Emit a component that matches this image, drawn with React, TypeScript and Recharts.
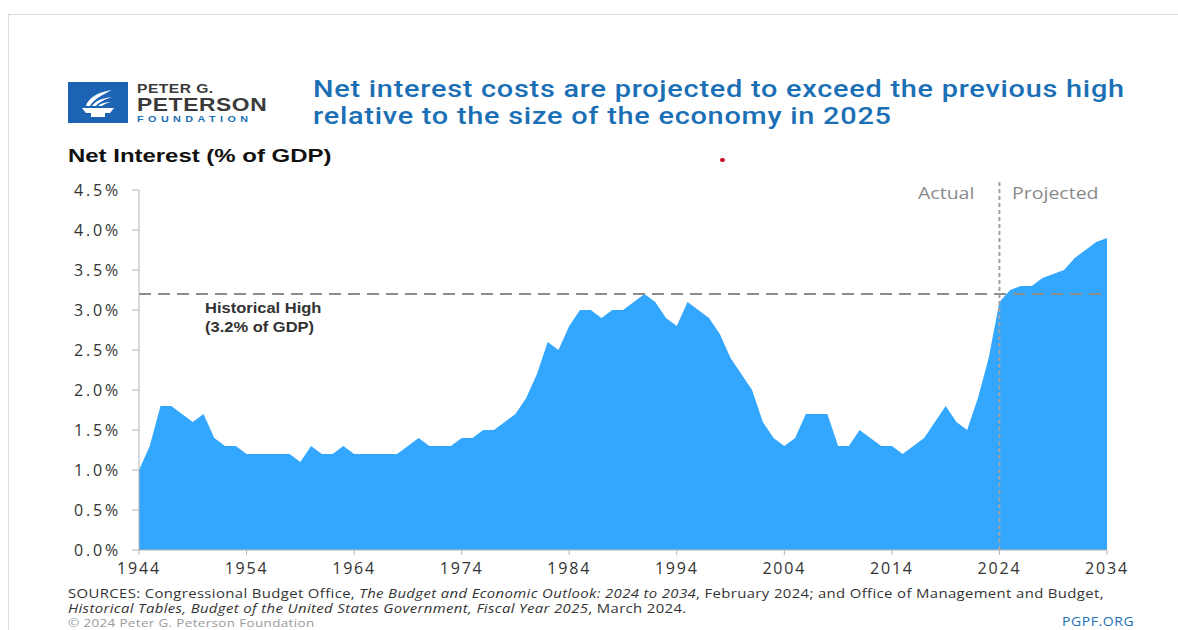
import React from 'react';
import { AreaChart, Area, XAxis, YAxis, ReferenceLine } from 'recharts';

// fiscal years shown on the chart
const years = [
  1944, 1945, 1946, 1947, 1948, 1949, 1950, 1951, 1952, 1953,
  1954, 1955, 1956, 1957, 1958, 1959, 1960, 1961, 1962, 1963,
  1964, 1965, 1966, 1967, 1968, 1969, 1970, 1971, 1972, 1973,
  1974, 1975, 1976, 1977, 1978, 1979, 1980, 1981, 1982, 1983,
  1984, 1985, 1986, 1987, 1988, 1989, 1990, 1991, 1992, 1993,
  1994, 1995, 1996, 1997, 1998, 1999, 2000, 2001, 2002, 2003,
  2004, 2005, 2006, 2007, 2008, 2009, 2010, 2011, 2012, 2013,
  2014, 2015, 2016, 2017, 2018, 2019, 2020, 2021, 2022, 2023,
  2024, 2025, 2026, 2027, 2028, 2029, 2030, 2031, 2032, 2033,
  2034,
];

// net interest as % of GDP
const netInterest = [
  1.0, 1.3, 1.8, 1.8, 1.7, 1.6, 1.7, 1.4, 1.3, 1.3,
  1.2, 1.2, 1.2, 1.2, 1.2, 1.1, 1.3, 1.2, 1.2, 1.3,
  1.2, 1.2, 1.2, 1.2, 1.2, 1.3, 1.4, 1.3, 1.3, 1.3,
  1.4, 1.4, 1.5, 1.5, 1.6, 1.7, 1.9, 2.2, 2.6, 2.5,
  2.8, 3.0, 3.0, 2.9, 3.0, 3.0, 3.1, 3.2, 3.1, 2.9,
  2.8, 3.1, 3.0, 2.9, 2.7, 2.4, 2.2, 2.0, 1.6, 1.4,
  1.3, 1.4, 1.7, 1.7, 1.7, 1.3, 1.3, 1.5, 1.4, 1.3,
  1.3, 1.2, 1.3, 1.4, 1.6, 1.8, 1.6, 1.5, 1.9, 2.4,
  3.1, 3.25, 3.3, 3.3, 3.4, 3.45, 3.5, 3.65, 3.75, 3.85,
  3.9,
];

const xTicks = [1944, 1954, 1964, 1974, 1984, 1994, 2004, 2014, 2024, 2034];
const yTicks = [0, 0.5, 1, 1.5, 2, 2.5, 3, 3.5, 4, 4.5];

const historicalHigh = 3.2;
const projectionStart = 2024;

const chartData = years.map((year, i) => ({ year, value: netInterest[i] }));

const FILL = '#33a7fd';
const BLUE = '#1b6fb5';
const AXIS = '#b4b4b4';

const stretch = (k: number): React.CSSProperties => ({ transform: `scaleX(${k})`, transformOrigin: 'left top', whiteSpace: 'nowrap' });

function Logo() {
  return (
    <div style={{ position: 'absolute', left: 68, top: 82, display: 'flex' }}>
      <svg width={60} height={41} viewBox="0 0 60 41">
        <rect x={0} y={0} width={60} height={41} fill="#1d63b3" />
        <path d="M14 26 L46 26 L42 31 L18 31 Z" fill="#fff" />
        <rect x={23} y={31} width={14} height={4} fill="#fff" />
        <path d="M18 24 C20 16 30 10 44 8 C34 13 26 17 22 24 Z" fill="#fff" />
        <path d="M24 24 C27 19 34 16 44 15 C36 18 31 20 28 24 Z" fill="#fff" />
        <path d="M30 24 C33 21 38 20 43 20 C39 21 36 22 34 24 Z" fill="#fff" />
      </svg>
      <div style={{ marginLeft: 9, fontFamily: 'Liberation Sans, Arial, sans-serif', fontWeight: 700, color: '#3a3a3a', ...stretch(1.2) }}>
        <div style={{ fontSize: 13, lineHeight: '14px', letterSpacing: 0.4 }}>PETER G.</div>
        <div style={{ fontSize: 19, lineHeight: '18px', letterSpacing: 0.5 }}>PETERSON</div>
        <div style={{ fontSize: 9, lineHeight: '11px', letterSpacing: 3.7, color: BLUE }}>FOUNDATION</div>
      </div>
    </div>
  );
}

export default function App() {
  return (
    <div
      style={{
        position: 'absolute',
        left: 0,
        top: 0,
        width: 1178,
        height: 630,
        background: '#fff',
        overflow: 'hidden',
        fontFamily: 'Open Sans, sans-serif',
      }}
    >
      {/* card frame */}
      <div style={{ position: 'absolute', left: 8, top: 14, width: 1200, height: 700, borderTop: '1px solid #dcdcdc', borderLeft: '1px solid #dcdcdc' }} />

      <Logo />

      <div
        style={{
          position: 'absolute',
          left: 313,
          top: 76,
          fontFamily: 'Roboto, sans-serif',
          fontWeight: 500,
          fontSize: 23,
          lineHeight: '27px',
          letterSpacing: 0.6,
          color: BLUE,
          ...stretch(1.255),
        }}
      >
        Net interest costs are projected to exceed the previous high
        <br />
        relative to the size of the economy in 2025
      </div>

      <div style={{ position: 'absolute', left: 68, top: 146, fontFamily: 'Liberation Sans, Arial, sans-serif', fontWeight: 700, fontSize: 18, color: '#111', ...stretch(1.33) }}>
        Net Interest (% of GDP)
      </div>

      <div style={{ position: 'absolute', left: 720, top: 158, width: 5, height: 4, borderRadius: 3, background: '#c8102e' }} />

      <div style={{ position: 'absolute', left: 0, top: 0 }}>
        <AreaChart
          width={1178}
          height={630}
          data={chartData}
          margin={{ top: 190, right: 71, bottom: 50, left: 69 }}
        >
          <XAxis
            dataKey="year"
            type="number"
            domain={[1944, 2034]}
            ticks={xTicks}
            interval={0}
            height={30}
            tickSize={5}
            tickMargin={8}
            axisLine={{ stroke: AXIS }}
            tickLine={{ stroke: AXIS }}
            tick={{ fill: '#333', fontSize: 16, letterSpacing: 1.8, fontFamily: 'Open Sans, sans-serif' }}
          />
          <YAxis
            domain={[0, 4.5]}
            ticks={yTicks}
            interval={0}
            width={70}
            tickSize={7}
            tickMargin={11}
            tickFormatter={(v: number) => `${v.toFixed(1)}%`}
            axisLine={{ stroke: AXIS }}
            tickLine={{ stroke: AXIS }}
            tick={{ fill: '#333', fontSize: 16, letterSpacing: 2.8, fontFamily: 'Open Sans, sans-serif' }}
          />
          <Area
            type="linear"
            dataKey="value"
            stroke="none"
            fill={FILL}
            fillOpacity={1}
            isAnimationActive={false}
          />
          <ReferenceLine y={historicalHigh} stroke="#8c8c8c" strokeWidth={2} strokeDasharray="12 7" />
          <ReferenceLine
            segment={[{ x: projectionStart, y: 0 }, { x: projectionStart, y: 4.6 }]}
            ifOverflow="visible"
            stroke="#a0a0a0"
            strokeWidth={2}
            strokeDasharray="4 3"
          />
        </AreaChart>
      </div>

      <div style={{ position: 'absolute', left: 205, top: 298, fontFamily: 'Liberation Sans, Arial, sans-serif', fontWeight: 700, fontSize: 15, lineHeight: '19px', color: '#333', ...stretch(1.1) }}>
        Historical High
        <br />
        (3.2% of GDP)
      </div>

      <div style={{ position: 'absolute', left: 918, top: 182, fontSize: 16, color: '#8a8a8a', ...stretch(1.22) }}>Actual</div>
      <div style={{ position: 'absolute', left: 1012, top: 182, fontSize: 16, color: '#8a8a8a', ...stretch(1.22) }}>Projected</div>

      <div style={{ position: 'absolute', left: 68, top: 586, fontSize: 12, lineHeight: '15px', color: '#333', letterSpacing: 0.3, ...stretch(1.24) }}>
        SOURCES: Congressional Budget Office, <i>The Budget and Economic Outlook: 2024 to 2034</i>, February 2024; and Office of Management and Budget,
        <br />
        <i>Historical Tables, Budget of the United States Government, Fiscal Year 2025</i>, March 2024.
      </div>
      <div style={{ position: 'absolute', left: 68, top: 617, fontSize: 11, lineHeight: '12px', color: '#9a9a9a', letterSpacing: 0.3, ...stretch(1.22) }}>
        © 2024 Peter G. Peterson Foundation
      </div>
      <div style={{ position: 'absolute', left: 1062, top: 615, fontSize: 12.5, lineHeight: '13px', color: BLUE, letterSpacing: 0.5, ...stretch(1.12) }}>PGPF.ORG</div>
    </div>
  );
}
